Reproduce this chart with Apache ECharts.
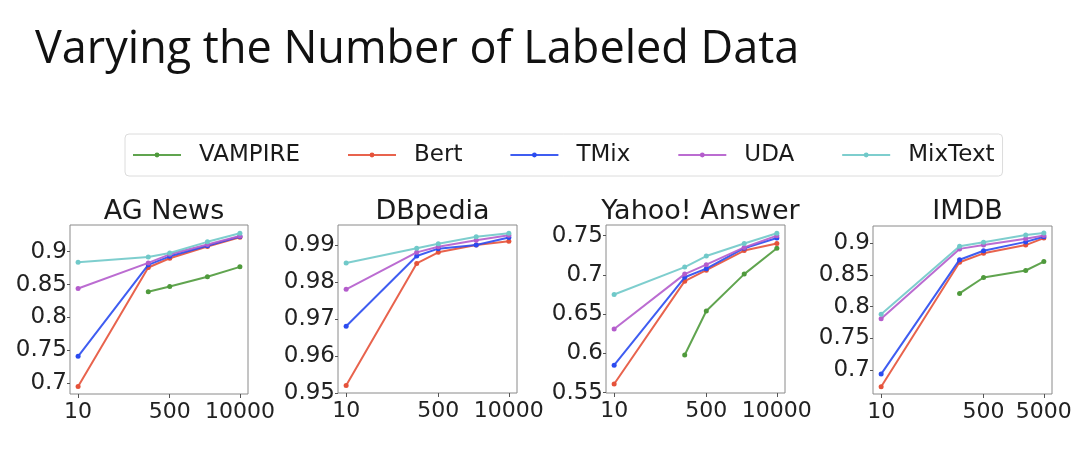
<!DOCTYPE html>
<html>
<head>
<meta charset="utf-8">
<script src="https://cdn.jsdelivr.net/npm/echarts@6/dist/echarts.min.js"></script>
<style>
html,body{margin:0;padding:0;background:#fff;}
#chart{width:1080px;height:454px;}
</style>
</head>
<body>
<div id="chart"></div>
<script>
// ---------- data ----------
const methods = ['VAMPIRE', 'Bert', 'TMix', 'UDA', 'MixText'];
const colors = ['#4f9a3c', '#e5523a', '#2a4bf0', '#b45ccc', '#70c9c9'];

const xs = [10, 200, 500, 2500, 10000];
const xsImdb = [10, 200, 500, 2500, 5000];

const titles = ['AG News', 'DBpedia', 'Yahoo! Answer', 'IMDB'];

// AG News
const agVampire = [null, 0.839, 0.847, 0.862, 0.877];
const agBert    = [0.695, 0.876, 0.890, 0.908, 0.922];
const agTMix    = [0.741, 0.880, 0.893, 0.909, 0.923];
const agUDA     = [0.844, 0.883, 0.896, 0.911, 0.924];
const agMixText = [0.884, 0.892, 0.898, 0.915, 0.928];

// DBpedia
const dbVampire = [null, null, null, null, null];
const dbBert    = [0.952, 0.985, 0.988, 0.990, 0.991];
const dbTMix    = [0.968, 0.987, 0.989, 0.990, 0.992];
const dbUDA     = [0.978, 0.988, 0.9895, 0.9913, 0.9926];
const dbMixText = [0.9851, 0.9891, 0.9903, 0.9922, 0.9932];

// Yahoo! Answer
const yaVampire = [null, 0.598, 0.654, 0.701, 0.734];
const yaBert    = [0.561, 0.692, 0.706, 0.731, 0.740];
const yaTMix    = [0.585, 0.697, 0.708, 0.734, 0.747];
const yaUDA     = [0.631, 0.701, 0.713, 0.735, 0.750];
const yaMixText = [0.675, 0.710, 0.724, 0.740, 0.753];

// IMDB
const imVampire = [null, 0.821, 0.846, 0.857, 0.871];
const imBert    = [0.674, 0.870, 0.884, 0.897, 0.908];
const imTMix    = [0.694, 0.874, 0.888, 0.902, 0.910];
const imUDA     = [0.781, 0.891, 0.897, 0.907, 0.912];
const imMixText = [0.788, 0.895, 0.9016, 0.913, 0.916];

// tick labels
const xTicks = [10, 500, 10000];
const xTicksImdb = [10, 500, 5000];
const agYTicks = [0.7, 0.75, 0.8, 0.85, 0.9];
const dbYTicks = [0.95, 0.96, 0.97, 0.98, 0.99];
const yaYTicks = [0.55, 0.6, 0.65, 0.7, 0.75];
const imYTicks = [0.7, 0.75, 0.8, 0.85, 0.9];

// ---------- layout ----------
const panels = [
  {x: xs, xt: xTicks, yt: agYTicks, ys: [agVampire, agBert, agTMix, agUDA, agMixText],
   grid: {left: 70, top: 225, width: 178, height: 169}, xmin: 7.08, xmax: 14125, ymin: 0.6837, ymax: 0.9406},
  {x: xs, xt: xTicks, yt: dbYTicks, ys: [dbVampire, dbBert, dbTMix, dbUDA, dbMixText],
   grid: {left: 338, top: 225, width: 179, height: 168}, xmin: 7.08, xmax: 14125, ymin: 0.94995, ymax: 0.9954},
  {x: xs, xt: xTicks, yt: yaYTicks, ys: [yaVampire, yaBert, yaTMix, yaUDA, yaMixText],
   grid: {left: 606, top: 225, width: 179, height: 168}, xmin: 7.08, xmax: 14125, ymin: 0.5495, ymax: 0.7636},
  {x: xsImdb, xt: xTicksImdb, yt: imYTicks, ys: [imVampire, imBert, imTMix, imUDA, imMixText],
   grid: {left: 873, top: 226, width: 179, height: 168}, xmin: 7.33, xmax: 6826, ymin: 0.6627, ymax: 0.927}
];

const tickFont = 'DejaVu Sans';
const grids = [], xAxes = [], yAxes = [], series = [];
const titleArr = [{
  text: 'Varying the Number of Labeled Data',
  left: 30, top: 23,
  textStyle: {fontFamily: 'Open Sans', fontSize: 45, fontWeight: 'normal', color: '#111'}
}];

panels.forEach((p, i) => {
  grids.push(Object.assign({show: true, borderColor: '#8a8a8a', borderWidth: 1, containLabel: false}, p.grid));
  titleArr.push({
    text: titles[i],
    left: p.grid.left + p.grid.width / 2, top: 193, textAlign: 'center',
    textStyle: {fontFamily: tickFont, fontSize: 27, fontWeight: 'normal', color: '#1a1a1a'}
  });
  xAxes.push({
    type: 'log', logBase: 10, gridIndex: i, min: p.xmin, max: p.xmax,
    axisLine: {show: false},
    splitLine: {show: false},
    minorTick: {show: false},
    axisTick: {show: true, customValues: p.xt, length: 4, lineStyle: {color: '#555'}},
    axisLabel: {customValues: p.xt, fontFamily: tickFont, fontSize: 22, color: '#222', margin: 7,
      formatter: v => String(Math.round(v))}
  });
  yAxes.push({
    type: 'value', gridIndex: i, min: p.ymin, max: p.ymax,
    axisLine: {show: false},
    splitLine: {show: false},
    axisTick: {show: true, customValues: p.yt, length: 3, lineStyle: {color: '#555'}},
    axisLabel: {customValues: p.yt, fontFamily: tickFont, fontSize: 23, color: '#222', margin: 3,
      formatter: v => String(+(+v).toFixed(3))}
  });
  p.ys.forEach((arr, k) => {
    const data = [];
    arr.forEach((v, j) => { if (v !== null) data.push([p.x[j], v]); });
    series.push({
      name: methods[k], type: 'line', xAxisIndex: i, yAxisIndex: i,
      data: data, symbol: 'circle', symbolSize: 5, showSymbol: true,
      color: colors[k],
      lineStyle: {width: 2, color: colors[k], opacity: 0.9},
      itemStyle: {color: colors[k]},
      animation: false, z: 2 + k
    });
  });
});

const chart = echarts.init(document.getElementById('chart'), null, {renderer: 'canvas'});
chart.setOption({
  backgroundColor: '#fff',
  animation: false,
  title: titleArr,
  legend: {
    data: methods,
    left: 125, top: 134,
    padding: [8, 8, 8, 7],
    itemWidth: 48, itemHeight: 6, itemGap: 47,
    borderColor: '#dcdcdc', borderWidth: 1, borderRadius: 4,
    textStyle: {fontFamily: tickFont, fontSize: 23, color: '#1a1a1a', padding: [0, 0, 0, 13], lineHeight: 26}
  },
  grid: grids,
  xAxis: xAxes,
  yAxis: yAxes,
  series: series
});
</script>
</body>
</html>
